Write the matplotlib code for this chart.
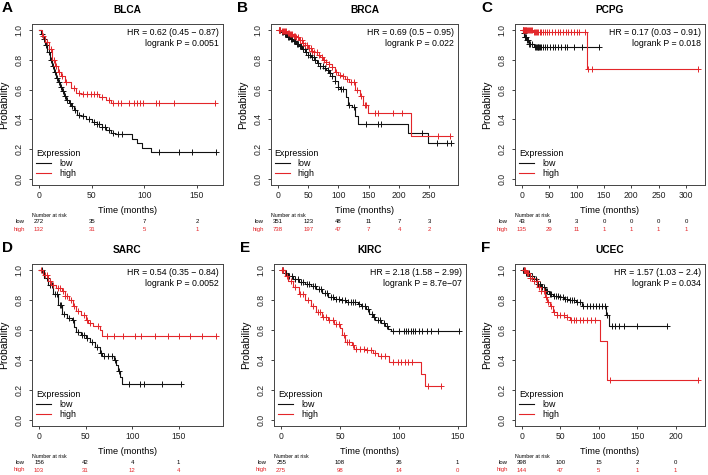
import matplotlib
matplotlib.use("Agg")
import matplotlib.pyplot as plt
import numpy as np
from matplotlib.lines import Line2D
from matplotlib.transforms import blended_transform_factory

plt.rcParams["font.family"] = ["Liberation Sans", "DejaVu Sans"]

W, H = 708, 475
RED = "#E3262A"
BLACK = "#111111"

# ---- BLCA ----
blca_low_t = [0, 2, 4, 6, 8, 10, 12, 14, 16, 18, 20, 22, 24, 26, 28, 30, 33, 36, 40, 45, 50, 55, 60, 64, 68, 72, 88, 93, 98, 106]
blca_low_s = [1.0, 0.97, 0.94, 0.90, 0.85, 0.80, 0.76, 0.72, 0.68, 0.65, 0.62, 0.59, 0.56, 0.53, 0.51, 0.49, 0.46, 0.43, 0.42, 0.40, 0.38, 0.37, 0.35, 0.33, 0.31, 0.30, 0.27, 0.24, 0.21, 0.18]
blca_low_c = [3, 5, 7, 9, 11, 13, 15, 17, 19, 21, 23, 25, 27, 29, 31, 34, 38, 42, 47, 52, 55, 57, 60, 63, 66, 70, 75, 79, 114, 133, 145, 168]
blca_high_t = [0, 3, 6, 9, 12, 15, 18, 21, 25, 30, 35, 40, 57, 64, 68]
blca_high_s = [1.0, 0.96, 0.92, 0.87, 0.80, 0.76, 0.72, 0.69, 0.65, 0.61, 0.58, 0.57, 0.55, 0.53, 0.51]
blca_high_c = [4, 8, 11, 14, 16, 19, 22, 26, 33, 38, 42, 46, 49, 52, 55, 60, 66, 70, 75, 78, 85, 90, 93, 96, 99, 111, 114, 128, 167]
blca_risk_low = [272, 35, 7, 2]
blca_risk_high = [132, 31, 5, 1]

# ---- BRCA ----
brca_low_t = [0, 5, 10, 15, 20, 25, 30, 35, 40, 45, 50, 55, 60, 65, 70, 75, 80, 85, 90, 95, 100, 103, 113, 116, 122, 127, 132, 215, 248]
brca_low_s = [1.0, 0.985, 0.97, 0.955, 0.94, 0.925, 0.905, 0.89, 0.87, 0.85, 0.835, 0.82, 0.80, 0.78, 0.76, 0.745, 0.73, 0.71, 0.69, 0.66, 0.62, 0.605, 0.55, 0.50, 0.48, 0.42, 0.37, 0.31, 0.24]
brca_low_c = [1, 3, 6, 8, 11, 13, 16, 18, 21, 23, 26, 28, 31, 33, 36, 38, 41, 44, 47, 50, 53, 56, 59, 62, 66, 70, 74, 78, 82, 86, 90, 95, 100, 104, 108, 118, 125, 145, 165, 170, 238, 262, 280, 286]
brca_high_t = [0, 5, 10, 15, 20, 25, 30, 35, 40, 45, 50, 55, 60, 65, 70, 75, 80, 85, 90, 95, 100, 105, 110, 118, 128, 135, 141, 148, 219]
brca_high_s = [1.0, 0.995, 0.99, 0.98, 0.97, 0.96, 0.95, 0.93, 0.91, 0.90, 0.88, 0.86, 0.85, 0.83, 0.82, 0.80, 0.785, 0.77, 0.75, 0.72, 0.70, 0.69, 0.67, 0.65, 0.60, 0.56, 0.50, 0.44, 0.29]
brca_high_c = [1, 2, 4, 6, 8, 10, 12, 14, 16, 18, 20, 22, 24, 26, 28, 30, 33, 36, 39, 42, 45, 48, 51, 54, 57, 60, 64, 68, 72, 76, 80, 85, 90, 96, 102, 108, 114, 120, 126, 131, 138, 143, 146, 160, 165, 190, 205, 265, 285]
brca_risk_low = [351, 123, 48, 11, 7, 3]
brca_risk_high = [738, 197, 47, 7, 4, 2]

# ---- PCPG ----
pcpg_low_t = [0, 2, 4, 8, 12, 22]
pcpg_low_s = [1.0, 0.977, 0.954, 0.93, 0.907, 0.884]
pcpg_low_c = [1, 3, 5, 6, 7, 9, 10, 13, 15, 18, 24, 26, 28, 29, 30, 31, 33, 35, 38, 42, 46, 52, 56, 60, 65, 72, 78, 82, 95, 110, 140]
pcpg_high_t = [0, 20, 118]
pcpg_high_s = [1.0, 0.985, 0.74]
pcpg_high_c = [1, 2, 3, 4, 5, 6, 7, 8, 9, 10, 12, 14, 16, 18, 22, 24, 26, 28, 30, 32, 35, 38, 42, 46, 50, 55, 60, 65, 70, 75, 80, 85, 90, 95, 100, 105, 115, 121, 128, 322]
pcpg_risk_low = [43, 9, 3, 0, 0, 0, 0]
pcpg_risk_high = [135, 29, 11, 1, 1, 1, 1]

# ---- SARC ----
sarc_low_t = [0, 5, 10, 15, 20, 25, 30, 35, 38, 40, 45, 50, 55, 60, 65, 68, 80, 83, 85, 87, 89]
sarc_low_s = [1.0, 0.95, 0.90, 0.84, 0.77, 0.71, 0.68, 0.67, 0.62, 0.59, 0.57, 0.55, 0.52, 0.49, 0.45, 0.43, 0.40, 0.37, 0.33, 0.29, 0.24]
sarc_low_c = [3, 8, 12, 14, 17, 19, 22, 24, 27, 32, 36, 42, 46, 48, 52, 57, 62, 66, 70, 74, 78, 82, 86, 97, 108, 113, 132, 153]
sarc_high_t = [0, 4, 10, 13, 18, 25, 28, 32, 36, 40, 45, 50, 53, 58, 65, 68]
sarc_high_s = [1.0, 0.97, 0.93, 0.90, 0.88, 0.86, 0.83, 0.80, 0.76, 0.73, 0.70, 0.67, 0.65, 0.63, 0.60, 0.56]
sarc_high_c = [2, 6, 9, 12, 15, 20, 22, 26, 28, 30, 34, 38, 42, 48, 52, 55, 63, 73, 80, 90, 103, 110, 125, 138, 150, 162, 175, 190]
sarc_risk_low = [156, 42, 4, 1]
sarc_risk_high = [103, 31, 12, 4]

# ---- KIRC ----
kirc_low_t = [0, 3, 6, 10, 15, 20, 25, 30, 35, 40, 45, 50, 55, 65, 68, 72, 75, 78, 80, 85, 88, 91, 93]
kirc_low_s = [1.0, 0.98, 0.96, 0.94, 0.92, 0.905, 0.895, 0.875, 0.85, 0.82, 0.81, 0.80, 0.785, 0.775, 0.76, 0.74, 0.71, 0.69, 0.67, 0.65, 0.63, 0.61, 0.595]
kirc_low_c = [1, 2, 4, 7, 9, 12, 14, 17, 19, 22, 24, 27, 29, 32, 34, 37, 39, 42, 44, 47, 49, 52, 54, 57, 59, 61, 63, 66, 69, 71, 74, 77, 79, 82, 84, 87, 90, 95, 100, 104, 106, 108, 110, 112, 114, 117, 120, 124, 127, 133, 151]
kirc_high_t = [0, 3, 6, 10, 15, 20, 25, 30, 35, 40, 45, 50, 52, 54, 60, 62, 72, 78, 82, 92, 119, 122]
kirc_high_s = [1.0, 0.96, 0.93, 0.89, 0.84, 0.80, 0.76, 0.72, 0.69, 0.665, 0.64, 0.615, 0.57, 0.52, 0.50, 0.475, 0.465, 0.45, 0.43, 0.39, 0.31, 0.23]
kirc_high_c = [1, 2, 5, 8, 12, 16, 19, 23, 27, 31, 33, 36, 38, 41, 44, 47, 49, 53, 56, 58, 61, 64, 67, 70, 73, 76, 80, 85, 88, 95, 99, 102, 105, 108, 111, 125, 136]
kirc_risk_low = [255, 108, 26, 1]
kirc_risk_high = [275, 98, 14, 0]

# ---- UCEC ----
ucec_low_t = [0, 5, 10, 15, 20, 25, 30, 35, 40, 50, 55, 60, 70, 78, 109, 113]
ucec_low_s = [1.0, 0.98, 0.96, 0.94, 0.91, 0.89, 0.86, 0.84, 0.83, 0.82, 0.81, 0.80, 0.79, 0.76, 0.70, 0.63]
ucec_low_c = [1, 3, 5, 7, 9, 11, 13, 16, 18, 21, 23, 26, 28, 31, 33, 36, 38, 41, 44, 47, 50, 53, 56, 59, 62, 65, 68, 72, 76, 80, 84, 88, 92, 96, 100, 104, 108, 110, 117, 121, 126, 133, 150, 189]
ucec_high_t = [0, 5, 10, 15, 20, 25, 30, 33, 37, 40, 45, 55, 62, 102, 110, 111]
ucec_high_s = [1.0, 0.98, 0.95, 0.93, 0.89, 0.86, 0.82, 0.79, 0.76, 0.72, 0.70, 0.69, 0.67, 0.53, 0.40, 0.27]
ucec_high_c = [2, 4, 6, 8, 11, 13, 16, 19, 22, 25, 28, 31, 34, 38, 42, 46, 50, 54, 58, 64, 67, 70, 75, 80, 85, 90, 95, 115, 229]
ucec_risk_low = [398, 100, 15, 2, 0]
ucec_risk_high = [144, 47, 5, 1, 1]

panels = [
    dict(letter="A", title="BLCA", box=(32, 24, 223, 185), ticks=[0, 50, 100, 150],
         low=(blca_low_t, blca_low_s, blca_low_c), high=(blca_high_t, blca_high_s, blca_high_c),
         hr="HR = 0.62 (0.45 \u2212 0.87)", p="logrank P = 0.0051",
         risk=(blca_risk_low, blca_risk_high)),
    dict(letter="B", title="BRCA", box=(271, 24, 458, 185), ticks=[0, 50, 100, 150, 200, 250],
         low=(brca_low_t, brca_low_s, brca_low_c), high=(brca_high_t, brca_high_s, brca_high_c),
         hr="HR = 0.69 (0.5 \u2212 0.95)", p="logrank P = 0.022",
         risk=(brca_risk_low, brca_risk_high)),
    dict(letter="C", title="PCPG", box=(515, 24, 705, 185), ticks=[0, 50, 100, 150, 200, 250, 300],
         low=(pcpg_low_t, pcpg_low_s, pcpg_low_c), high=(pcpg_high_t, pcpg_high_s, pcpg_high_c),
         hr="HR = 0.17 (0.03 \u2212 0.91)", p="logrank P = 0.018",
         risk=(pcpg_risk_low, pcpg_risk_high)),
    dict(letter="D", title="SARC", box=(32, 264, 223, 426), ticks=[0, 50, 100, 150],
         low=(sarc_low_t, sarc_low_s, sarc_low_c), high=(sarc_high_t, sarc_high_s, sarc_high_c),
         hr="HR = 0.54 (0.35 \u2212 0.84)", p="logrank P = 0.0052",
         risk=(sarc_risk_low, sarc_risk_high)),
    dict(letter="E", title="KIRC", box=(274, 264, 466, 426), ticks=[0, 50, 100, 150],
         low=(kirc_low_t, kirc_low_s, kirc_low_c), high=(kirc_high_t, kirc_high_s, kirc_high_c),
         hr="HR = 2.18 (1.58 \u2212 2.99)", p="logrank P = 8.7e\u221207",
         risk=(kirc_risk_low, kirc_risk_high)),
    dict(letter="F", title="UCEC", box=(515, 264, 705, 426), ticks=[0, 50, 100, 150, 200],
         low=(ucec_low_t, ucec_low_s, ucec_low_c), high=(ucec_high_t, ucec_high_s, ucec_high_c),
         hr="HR = 1.57 (1.03 \u2212 2.4)", p="logrank P = 0.034",
         risk=(ucec_risk_low, ucec_risk_high)),
]


def draw_curve(ax, t, s, cens, color):
    t = np.asarray(t, float)
    s = np.asarray(s, float)
    end = max(max(cens), t[-1])
    ax.step(np.append(t, end), np.append(s, s[-1]), where="post", color=color, lw=0.8)
    idx = np.searchsorted(t, cens, side="right") - 1
    ax.plot(cens, s[idx], ls="none", marker="+", ms=3.8, mew=0.7, color=color)
    return end


fig = plt.figure(figsize=(W / 100, H / 100), dpi=100)
fig.patch.set_facecolor("white")

for pn in panels:
    left, top, right, bottom = pn["box"]
    ax = fig.add_axes([left / W, 1 - bottom / H, (right - left) / W, (bottom - top) / H])
    e1 = draw_curve(ax, *pn["low"], BLACK)
    e2 = draw_curve(ax, *pn["high"], RED)
    tmax = max(e1, e2)
    ax.set_xlim(-0.04 * tmax, 1.04 * tmax)
    ax.set_ylim(-0.04, 1.04)
    ax.set_xticks(pn["ticks"])
    ax.set_yticks([0, 0.2, 0.4, 0.6, 0.8, 1.0])
    ax.set_yticklabels(["0.0", "0.2", "0.4", "0.6", "0.8", "1.0"], rotation=90, va="center")
    ax.tick_params(direction="out", length=2.5, width=0.6, labelsize=6.2, colors="#222222", pad=2)
    ax.tick_params(axis="y", pad=3.5)
    for sp in ax.spines.values():
        sp.set_color("#444444")
        sp.set_linewidth(0.7)
    ax.set_xlabel("Time (months)", fontsize=6.6, labelpad=4)
    ax.set_ylabel("Probability", fontsize=7.5, labelpad=4)

    ax.text(0.98, 0.945, pn["hr"], transform=ax.transAxes, ha="right", va="center", fontsize=6.3)
    ax.text(0.98, 0.88, pn["p"], transform=ax.transAxes, ha="right", va="center", fontsize=6.3)

    handles = [Line2D([], [], color=BLACK, lw=0.8), Line2D([], [], color=RED, lw=0.8)]
    ax.legend(handles, ["low", "high"], title="Expression", loc="upper left",
              bbox_to_anchor=(0.02, 0.225), frameon=False,
              fontsize=6.4, title_fontsize=6.4, alignment="left", handlelength=1.7,
              handletextpad=0.9, labelspacing=0.12, borderaxespad=0, borderpad=0)

    # title and panel letter
    fig.text((left + right) / 2 / W, 1 - (top - 14) / H, pn["title"], ha="center", va="center",
             fontsize=7.3, fontweight="bold")
    fig.text((left - 30 if left < 40 else left - 34) / W, 1 - (top - 16) / H, pn["letter"],
             ha="left", va="center", fontsize=11, fontweight="bold")

    # numbers at risk
    tr = blended_transform_factory(ax.transData, fig.transFigure)
    y0 = bottom + 30
    fig.text(left / W, 1 - y0 / H, "Number at risk", ha="left", va="center", fontsize=3.8)
    fig.text((left - 7) / W, 1 - (y0 + 6.5) / H, "low", ha="right", va="center", fontsize=4.3)
    fig.text((left - 7) / W, 1 - (y0 + 14) / H, "high", ha="right", va="center", fontsize=4.3,
             color=RED)
    for tk, nl, nh in zip(pn["ticks"], *pn["risk"]):
        ax.text(tk, 1 - (y0 + 6.5) / H, str(nl), transform=tr, ha="center", va="center",
                fontsize=4.3, clip_on=False)
        ax.text(tk, 1 - (y0 + 14) / H, str(nh), transform=tr, ha="center", va="center",
                fontsize=4.3, color=RED, clip_on=False)

fig.savefig("out.png", dpi=100)
